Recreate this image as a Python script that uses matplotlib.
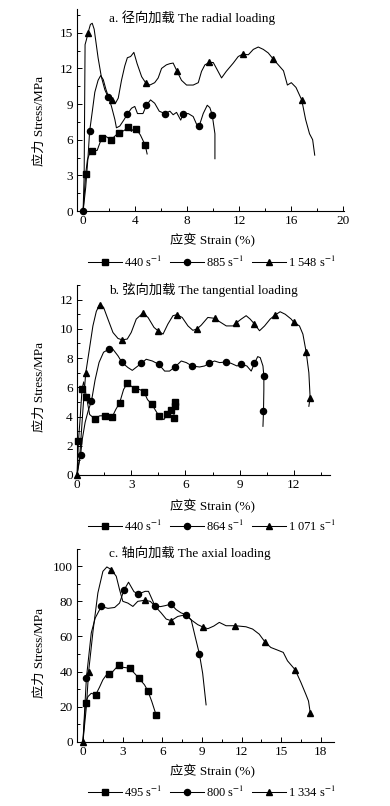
import matplotlib
matplotlib.use("Agg")
import matplotlib.pyplot as plt
from matplotlib.ticker import MultipleLocator

plt.rcParams["font.family"] = ["Liberation Serif", "Noto Sans CJK SC"]
plt.rcParams["mathtext.fontset"] = "stix"
plt.rcParams["font.size"] = 9

# ---- panel a: radial loading ----
A_LABELS = ["440 s$^{-1}$", "885 s$^{-1}$", "1 548 s$^{-1}$"]
A1_X = [0, 0.2, 0.33, 0.5, 0.72, 1.08, 1.28, 1.46, 1.8, 2.13, 2.44, 2.74, 3.13, 3.46, 3.72, 3.9, 4.1, 4.4, 4.77, 4.92]
A1_Y = [0, 3.15, 4.3, 4.85, 5.05, 5.1, 5.7, 6.17, 6.25, 5.97, 6.3, 6.6, 6.76, 7.04, 6.7, 6.96, 6.87, 6.4, 5.55, 4.8]
A1_M = [1, 4, 7, 9, 11, 13, 16, 18]
A2_X = [0, 0.2, 0.38, 0.5, 0.72, 0.9, 1.15, 1.35, 1.55, 1.75, 1.95, 2.18, 2.44, 2.56, 2.82, 3.13, 3.4, 3.72,
        3.97, 4.18, 4.6, 4.87, 5.18, 5.5, 5.85, 6.28, 6.67, 6.92, 7.18, 7.5, 7.7, 8.08, 8.46, 8.72, 8.92,
        9.23, 9.54, 9.74, 9.92, 10.13, 10.13]
A2_Y = [0, 2.0, 4.6, 6.7, 8.5, 10.0, 11.0, 11.4, 11.05, 10.25, 9.6, 8.8, 7.7, 7.0, 7.15, 7.66, 8.15, 8.65,
        8.8, 8.2, 8.2, 8.9, 9.35, 9.07, 8.4, 8.2, 8.4, 8.1, 8.3, 7.65, 8.2, 8.2, 7.95, 7.3, 7.15,
        8.2, 8.9, 8.7, 8.1, 6.5, 4.4]
A2_M = [0, 3, 10, 16, 21, 25, 30, 34, 38]
A3_X = [0, 0.08, 0.15, 0.25, 0.38, 0.56, 0.7, 0.85, 1.15, 1.4, 1.67, 1.92, 2.25, 2.5, 2.7, 2.95, 3.2, 3.4,
        3.65, 3.9, 4.15, 4.5, 4.8, 5.13, 5.5, 5.77, 6.03, 6.4, 6.67, 6.92, 7.2, 7.56, 7.95, 8.46, 8.85,
        9.1, 9.36, 9.7, 10.0, 10.25, 10.64, 11.0, 11.54, 11.92, 12.26, 12.7, 13.08, 13.46, 13.85, 14.23,
        14.6, 15.0, 15.4, 15.7, 16.0, 16.36, 16.8, 17.1, 17.4, 17.64, 17.8]
A3_Y = [0, 3.0, 14.0, 14.4, 15.0, 15.7, 15.8, 15.3, 12.9, 11.3, 10.2, 9.6, 9.3, 9.1, 9.5, 11.0, 12.2, 12.9,
        13.0, 13.35, 12.4, 11.3, 10.8, 10.6, 10.8, 11.2, 12.0, 12.3, 12.4, 12.45, 11.8, 11.0, 10.6, 10.6, 10.8,
        11.75, 12.3, 12.5, 12.5, 12.0, 11.2, 11.75, 12.45, 13.0, 13.2, 13.15, 13.6, 13.8, 13.6, 13.3,
        12.8, 12.3, 11.8, 10.6, 10.8, 10.4, 9.35, 7.7, 6.5, 6.0, 4.7]
A3_M = [4, 12, 22, 30, 37, 44, 50, 56]

# ---- panel b: tangential loading ----
B_LABELS = ["440 s$^{-1}$", "864 s$^{-1}$", "1 071 s$^{-1}$"]
B1_X = [0, 0.08, 0.18, 0.28, 0.37, 0.52, 0.7, 0.98, 1.25, 1.53, 1.71, 1.94, 2.14, 2.36, 2.58, 2.79, 3.0,
        3.23, 3.47, 3.71, 3.9, 4.15, 4.32, 4.52, 4.81, 4.98, 5.22, 5.32, 5.42, 5.42, 5.37, 5.35]
B1_Y = [0, 2.3, 4.0, 5.9, 6.37, 5.36, 4.14, 3.84, 4.05, 4.05, 4.0, 3.95, 4.47, 4.94, 5.86, 6.28, 6.08,
        5.86, 5.85, 5.68, 5.16, 4.83, 4.47, 4.07, 3.79, 4.14, 4.44, 4.65, 5.0, 4.7, 4.2, 3.9]
B1_M = [1, 3, 5, 7, 9, 11, 13, 15, 17, 19, 21, 23, 25, 26, 28, 29, 31]
B2_X = [0, 0.2, 0.3, 0.45, 0.62, 0.8, 1.0, 1.22, 1.47, 1.75, 1.99, 2.27, 2.49, 2.82, 3.06, 3.37, 3.56,
        3.83, 4.17, 4.53, 4.85, 5.12, 5.44, 5.77, 6.05, 6.36, 6.78, 7.06, 7.3, 7.61, 7.89, 8.22, 8.53,
        8.85, 9.09, 9.4, 9.64, 9.82, 10.0, 10.14, 10.29, 10.34, 10.34, 10.32, 10.29]
B2_Y = [0, 1.4, 2.5, 3.6, 4.4, 5.05, 6.5, 7.7, 8.4, 8.6, 8.6, 8.15, 7.7, 7.35, 7.16, 7.46, 7.64,
        7.92, 7.8, 7.57, 7.11, 7.11, 7.41, 7.8, 7.69, 7.46, 7.39, 7.46, 7.64, 7.8, 7.69, 7.73, 7.64,
        7.46, 7.57, 7.46, 7.11, 7.64, 8.1, 8.03, 7.46, 6.77, 5.85, 4.36, 3.33]
B2_M = [1, 5, 9, 12, 16, 19, 22, 25, 28, 31, 34, 37, 41, 43]
B3_X = [0, 0.15, 0.33, 0.48, 0.66, 0.88, 1.07, 1.25, 1.47, 1.71, 1.99, 2.27, 2.5, 2.78, 3.0, 3.28, 3.65,
        3.93, 4.26, 4.48, 4.76, 5.03, 5.31, 5.53, 5.82, 6.14, 6.41, 6.64, 6.88, 7.24, 7.61, 7.89, 8.26,
        8.63, 8.81, 9.09, 9.36, 9.58, 9.82, 10.1, 10.38, 10.69, 10.97, 11.24, 11.52, 11.85, 12.0, 12.31,
        12.5, 12.68, 12.83, 12.9, 12.83]
B3_Y = [0, 1.26, 4.5, 6.95, 8.4, 10.2, 11.2, 11.65, 11.47, 10.67, 9.75, 9.34, 9.25, 9.3, 9.75, 10.67, 11.08,
        10.78, 10.1, 9.87, 9.64, 10.33, 10.9, 10.97, 10.78, 10.2, 9.9, 9.99, 10.26, 10.78, 10.72, 10.49, 10.2,
        10.2, 10.4, 10.67, 10.9, 10.67, 10.33, 9.87, 10.2, 10.67, 10.95, 11.17, 11.0, 10.67, 10.44, 10.2,
        9.64, 8.42, 7.0, 5.3, 4.7]
B3_M = [0, 3, 7, 12, 16, 19, 23, 27, 30, 34, 38, 42, 46, 49, 51]

# ---- panel c: axial loading ----
C_LABELS = ["495 s$^{-1}$", "800 s$^{-1}$", "1 334 s$^{-1}$"]
C1_X = [0, 0.2, 0.38, 0.63, 0.96, 1.25, 1.51, 1.76, 1.96, 2.26, 2.72, 3.02, 3.53, 3.9, 4.23, 4.66, 4.91, 5.21, 5.54]
C1_Y = [0, 21.9, 25.7, 27.6, 26.7, 31, 35.3, 37.9, 38.7, 40, 43.8, 42.4, 41.9, 39, 36.2, 32.4, 29, 22.9, 15.2]
C1_M = [1, 4, 8, 10, 12, 14, 16, 18]
C2_X = [0, 0.26, 0.63, 0.93, 1.39, 1.89, 2.4, 2.77, 3.1, 3.45, 3.86, 4.2, 4.71, 4.96, 5.3, 5.42, 5.87,
        6.2, 6.67, 7.05, 7.43, 7.81, 8.19, 8.49, 8.81, 9.06, 9.32]
C2_Y = [0, 36.2, 62, 70.5, 77.1, 76, 76.5, 79, 86.3, 90.9, 85.5, 84.2, 85.7, 85.7, 80, 77.5, 77,
        77.5, 78.4, 75.3, 73.4, 72.4, 69.5, 60, 50.1, 39, 21]
C2_M = [1, 4, 8, 11, 15, 18, 21, 24]
C3_X = [0, 0.26, 0.43, 0.76, 1.13, 1.51, 1.81, 2.14, 2.52, 2.77, 3.02, 3.4, 3.78, 4.15, 4.66, 5.1, 5.42,
        5.92, 6.3, 6.67, 7.18, 7.55, 7.81, 8.18, 8.69, 9.07, 9.45, 9.9, 10.32, 10.83, 11.53, 12.34, 12.84,
        13.34, 13.8, 14.22, 14.73, 15.16, 15.48, 16.06, 16.5, 16.87, 17.07, 17.2]
C3_Y = [0, 20, 40, 62.9, 84.8, 97.1, 99.6, 98.1, 94.3, 86.7, 80, 79, 77.1, 80, 80.6, 80, 77.5,
        73.4, 69.9, 69, 71.4, 72, 72, 69.5, 66.7, 65.4, 64.4, 65.9, 68, 66.1, 66.1, 65.5, 64.2,
        61.3, 56.6, 53.7, 52.2, 50.9, 46.1, 41, 33.7, 27, 23.2, 16.6]
C3_M = [0, 2, 7, 14, 19, 25, 30, 34, 39, 43]

MARKERS = ["s", "o", "^"]
W, H = 390, 806


def fx(px):
    return px / W


def fy(py):
    return 1 - py / H


fig = plt.figure(figsize=(W / 100, H / 100), dpi=100)

panels = [
    dict(rect=(77, 9, 344, 211), title="a. 径向加载 The radial loading", ty=18,
         xlim=(-0.47, 20.05), ylim=(0, 17), xmaj=4, xmin=2, ymaj=3, ymin=1.5,
         series=[(A1_X, A1_Y, A1_M), (A2_X, A2_Y, A2_M), (A3_X, A3_Y, A3_M)],
         labels=A_LABELS, xl=240, yl=121, lg=262),
    dict(rect=(77, 285, 330, 475), title="b. 弦向加载 The tangential loading", ty=290,
         xlim=(0, 14), ylim=(0, 13), xmaj=3, xmin=1.5, ymaj=2, ymin=1,
         series=[(B1_X, B1_Y, B1_M), (B2_X, B2_Y, B2_M), (B3_X, B3_Y, B3_M)],
         labels=B_LABELS, xl=506, yl=387, lg=526),
    dict(rect=(77, 548.7, 334, 741.7), title="c. 轴向加载 The axial loading", ty=553,
         xlim=(-0.45, 19), ylim=(0, 110), xmaj=3, xmin=1.5, ymaj=20, ymin=10,
         series=[(C1_X, C1_Y, C1_M), (C2_X, C2_Y, C2_M), (C3_X, C3_Y, C3_M)],
         labels=C_LABELS, xl=771, yl=653, lg=792),
]

for p in panels:
    l, t, r, b = p["rect"]
    ax = fig.add_axes([fx(l), fy(b), fx(r) - fx(l), fy(t) - fy(b)])
    handles = []
    for (xs, ys, marks), mk, lab in zip(p["series"], MARKERS, p["labels"]):
        h, = ax.plot(xs, ys, color="black", lw=0.75, marker=mk, markevery=marks,
                     markersize=4.4, markerfacecolor="black", markeredgecolor="black",
                     label=lab, clip_on=False)
        handles.append(h)
    ax.set_xlim(*p["xlim"])
    ax.set_ylim(*p["ylim"])
    ax.xaxis.set_major_locator(MultipleLocator(p["xmaj"]))
    ax.xaxis.set_minor_locator(MultipleLocator(p["xmin"]))
    ax.yaxis.set_major_locator(MultipleLocator(p["ymaj"]))
    ax.yaxis.set_minor_locator(MultipleLocator(p["ymin"]))
    ax.tick_params(which="both", direction="in", width=0.7, labelsize=9.5, pad=3)
    ax.tick_params(which="major", length=3.5)
    ax.tick_params(which="minor", length=2)
    for s in ["top", "right"]:
        ax.spines[s].set_visible(False)
    for s in ["left", "bottom"]:
        ax.spines[s].set_linewidth(0.8)

    fig.text(fx(109), fy(p["ty"]), p["title"], ha="left", va="center", fontsize=9.5)
    fig.text(fx(213), fy(p["xl"]), "应变 Strain (%)", ha="center", va="center", fontsize=9.5)
    fig.text(fx(40), fy(p["yl"]), "应力 Stress/MPa", ha="center", va="center",
             rotation=90, fontsize=9.5)
    fig.legend(handles=handles, loc="center", bbox_to_anchor=(fx(212), fy(p["lg"])),
               ncol=3, frameon=False, fontsize=9, handlelength=2.7, handletextpad=0.2,
               columnspacing=0.6, borderpad=0, borderaxespad=0)

fig.savefig("out.png", dpi=100)
